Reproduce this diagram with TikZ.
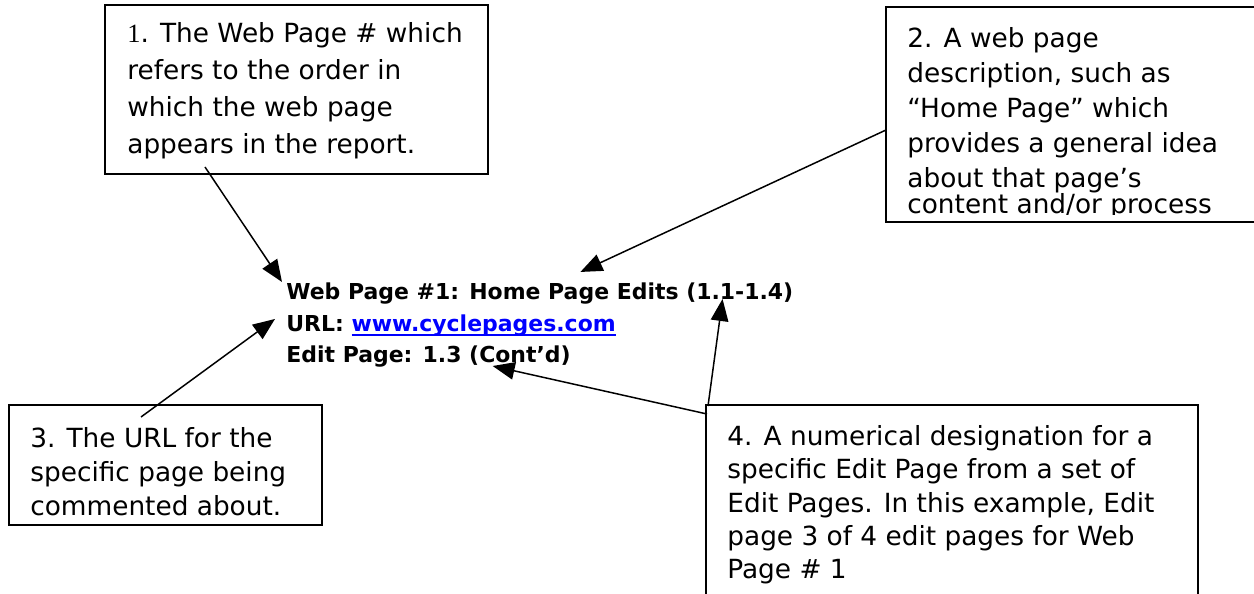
\documentclass[tikz,border=0pt]{standalone}
\usepackage{fontspec}
\setmainfont{DejaVu Sans}
\newfontfamily\numserif{Liberation Serif}
\usetikzlibrary{arrows.meta,calc}

% link text with a close underline
\newcommand\linkline[1]{\setbox0=\hbox{#1}\rlap{\rule[-2pt]{\wd0}{0.9pt}}\box0}

\tikzset{
  notebox/.style={line width=1.1pt},
  notetext/.style={anchor=north west, inner sep=0pt, align=left},
  headline/.style={anchor=base west, inner sep=0pt, font=\fontsize{12.5}{14}\selectfont\bfseries},
  pointer/.style={-{Triangle[length=12.5pt,width=10pt]}, line width=0.85pt}
}

\begin{document}
\begin{tikzpicture}[x=0.02cm, y=-0.02cm]
\useasboundingbox (0,0) rectangle (1254,594);
\clip (0,0) rectangle (1254,594);

% header of the edit record
\node[headline] (title) at (286,300) {Web Page \#1: Home Page Edits (1.1-1.4)};
\node[headline] (url) at (286,332) {URL: {\color{blue}\linkline{www.cyclepages.com}}};
\node[headline] (edit) at (286,363) {Edit Page: 1.3 (Cont’d)};

% note 1
\draw[notebox] (105,5) rectangle (488,174);
\node[notetext, font=\fontsize{15}{21}\selectfont] (note1) at (127,22)
  {{\numserif 1}. The Web Page \# which\\refers to the order in\\which the web page\\appears in the report.};

% note 2, runs off the page on the right
\draw[notebox] (886,7) rectangle (1270,222);
\begin{scope}
\clip (886,0) rectangle (1254,215);
\node[notetext, font=\fontsize{15}{20}\selectfont] (note2) at (907,27)
  {2. A web page\\description, such as\\“Home Page” which\\provides a general idea\\about that page’s\\[-5.7pt]content and/or process};
\end{scope}

% note 3
\draw[notebox] (9,405) rectangle (322,525);
\node[notetext, font=\fontsize{15}{19.5}\selectfont] (note3) at (30,427)
  {3. The URL for the\\specific page being\\commented about.};

% note 4, runs off the page at the bottom
\draw[notebox] (706,405) rectangle (1198,620);
\node[notetext, font=\fontsize{15}{19}\selectfont] (note4) at (727,425)
  {4. A numerical designation for a\\specific Edit Page from a set of\\Edit Pages. In this example, Edit\\page 3 of 4 edit pages for Web\\Page \# 1};

% arrow ends
\coordinate (from1) at (205,167);
\coordinate (from2) at (886,130);
\coordinate (from3) at (141,417);
\coordinate (from4a) at (708,406);
\coordinate (from4b) at (707,414);
\coordinate (tip1) at ($(title.north west)+(-4,-1)$);
\coordinate (tip2) at ($($(title.north west)!0.58!(title.north east)$)+(0,-11)$);
\coordinate (tip3) at ($(url.north west)+(-11,4)$);
\coordinate (tip4a) at ($($(title.base west)!0.86!(title.base east)$)+(0,-1)$);
\coordinate (tip4b) at ($($(edit.base west)!0.725!(edit.base east)$)+(0,3)$);

\draw[pointer] (from1) -- (tip1);
\draw[pointer] (from2) -- (tip2);
\draw[pointer] (from3) -- (tip3);
\draw[pointer] (from4a) -- (tip4a);
\draw[pointer] (from4b) -- (tip4b);

\end{tikzpicture}
\end{document}
